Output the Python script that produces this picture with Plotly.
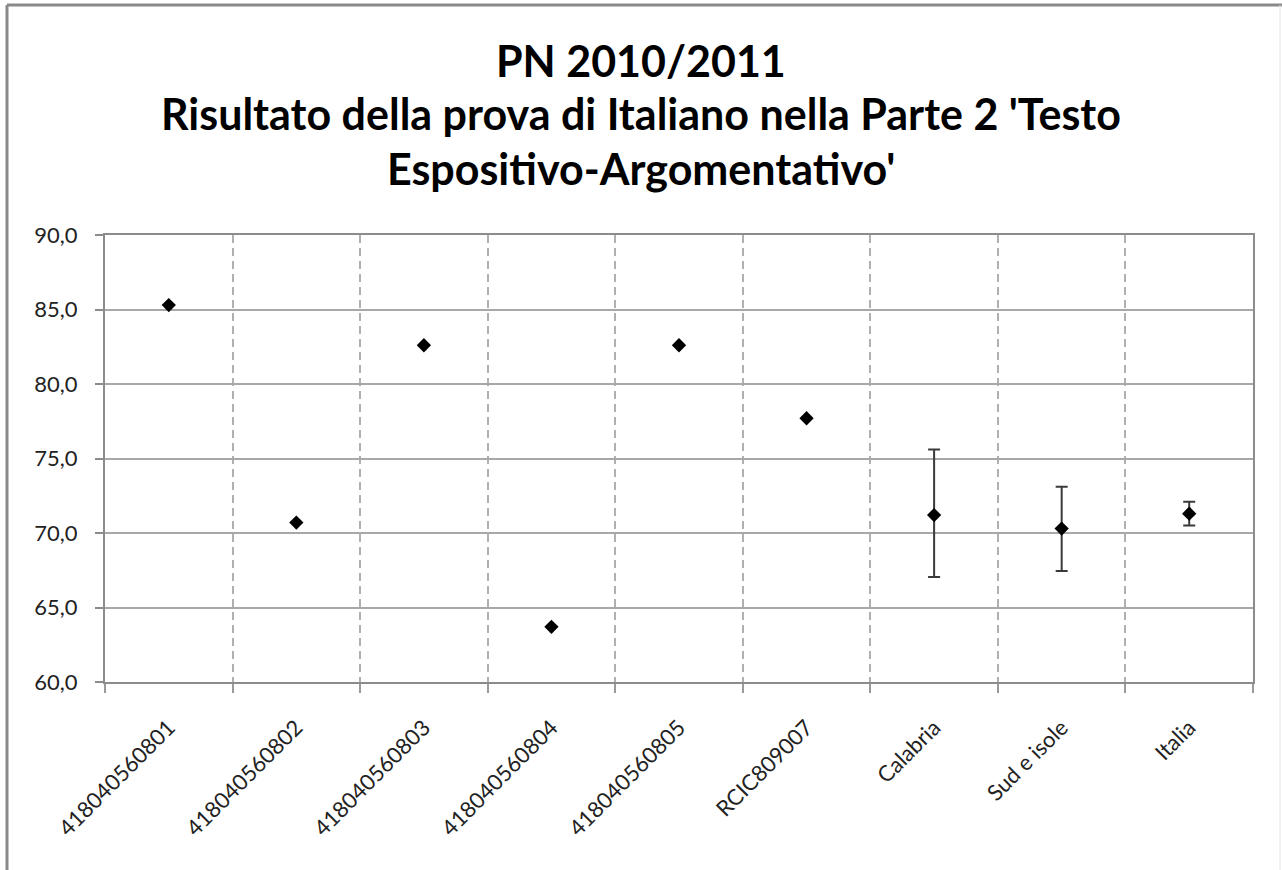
import plotly.graph_objects as go

categories = ["418040560801", "418040560802", "418040560803", "418040560804",
              "418040560805", "RCIC809007", "Calabria", "Sud e isole", "Italia"]
values = [85.3, 70.7, 82.6, 63.7, 82.6, 77.7, 71.2, 70.3, 71.3]
err_upper = [0, 0, 0, 0, 0, 0, 4.4, 2.8, 0.8]
err_lower = [0, 0, 0, 0, 0, 0, 4.15, 2.85, 0.8]
y_ticks = [60, 65, 70, 75, 80, 85, 90]
title_lines = ["PN 2010/2011",
               "Risultato della prova di Italiano nella Parte 2 'Testo",
               "Espositivo-Argomentativo'"]

n = len(categories)
xpos = [i + 0.5 for i in range(n)]
has_err = [u > 0 or l > 0 for u, l in zip(err_upper, err_lower)]

FONT = "Lato"
fig = go.Figure()

# points without error bars
fig.add_trace(go.Scatter(
    x=[x for x, h in zip(xpos, has_err) if not h],
    y=[v for v, h in zip(values, has_err) if not h],
    mode="markers",
    marker=dict(symbol="diamond", size=11, color="black"),
    showlegend=False,
))
# points with error bars
fig.add_trace(go.Scatter(
    x=[x for x, h in zip(xpos, has_err) if h],
    y=[v for v, h in zip(values, has_err) if h],
    mode="markers",
    marker=dict(symbol="diamond", size=11, color="black"),
    error_y=dict(type="data", symmetric=False,
                 array=[u for u, h in zip(err_upper, has_err) if h],
                 arrayminus=[l for l, h in zip(err_lower, has_err) if h],
                 color="#3a3a3a", thickness=2, width=6),
    showlegend=False,
))

fig.update_layout(
    width=1282, height=870,
    paper_bgcolor="white", plot_bgcolor="white",
    margin=dict(l=105, r=29, t=235, b=188),
    separators=",.",
    font=dict(family=FONT, color="#222"),
)

fig.update_xaxes(
    range=[0, n],
    tickmode="array", tickvals=xpos, ticktext=categories,
    tickangle=-45, tickfont=dict(size=22, color="#222"),
    ticklabelstandoff=22,
    ticks="", showgrid=False, zeroline=False,
    showline=True, linecolor="#8c8c8c", linewidth=2, mirror=True,
    minor=dict(tickmode="array", tickvals=list(range(n + 1)),
               showgrid=True, gridcolor="#b0b0b0", gridwidth=1.5,
               griddash="8px,5px",
               ticks="outside", ticklen=9, tickcolor="#9a9a9a", tickwidth=1.5),
)
fig.update_yaxes(
    range=[60, 90],
    tickmode="array", tickvals=y_ticks, tickformat=".1f",
    tickfont=dict(size=22, color="#222"),
    ticklabelstandoff=13,
    ticks="outside", ticklen=8, tickcolor="#8c8c8c", tickwidth=1.5,
    showgrid=True, gridcolor="#a8a8a8", gridwidth=1.5,
    zeroline=False,
    showline=True, linecolor="#8c8c8c", linewidth=2, mirror=True,
)

# pixel -> paper helpers
pw, ph = 1282 - 105 - 29, 870 - 235 - 188
def px(xp):
    return (xp - 105) / pw
def py(yp):
    return (870 - 188 - yp) / ph

# title lines
for line, yc in zip(title_lines, [60, 114, 168]):
    fig.add_annotation(text=f"<b>{line}</b>", xref="paper", yref="paper",
                       x=px(641), y=py(yc), xanchor="center", yanchor="middle",
                       showarrow=False,
                       font=dict(family=FONT, size=43, color="black"))

# outer chart border (left and top)
fig.add_shape(type="line", xref="paper", yref="paper",
              x0=px(7), x1=px(7), y0=py(5), y1=py(870),
              line=dict(color="#8a8a8a", width=3))
fig.add_shape(type="line", xref="paper", yref="paper",
              x0=px(7), x1=px(1282), y0=py(5), y1=py(5),
              line=dict(color="#8a8a8a", width=3))
fig.add_shape(type="line", xref="paper", yref="paper",
              x0=px(1280), x1=px(1280), y0=py(5), y1=py(870),
              line=dict(color="#e4e4e4", width=1))

fig.write_html("out.html", config={"displayModeBar": False},
               post_script="document.body.style.margin='0';document.body.style.overflow='hidden';")
